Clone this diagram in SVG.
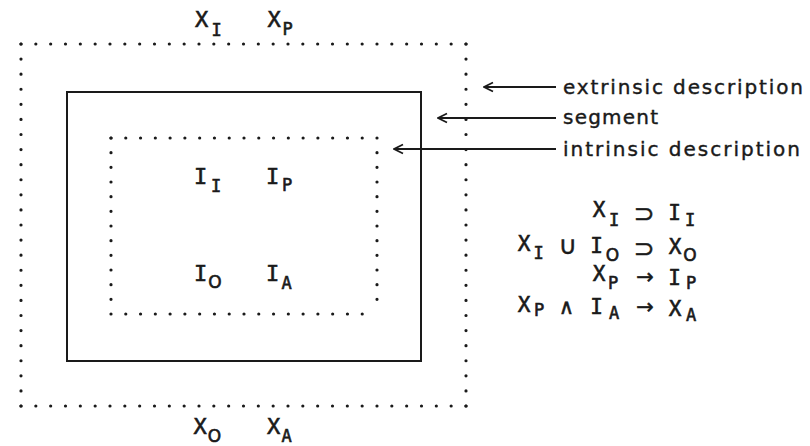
<svg xmlns="http://www.w3.org/2000/svg" width="810" height="446" viewBox="0 0 810 446">
  <style>
    .dot { fill: none; stroke: #1a1a1a; stroke-width: 3.2; stroke-linecap: round; }
    .solid { fill: none; stroke: #1a1a1a; stroke-width: 2; }
    .conn { fill: none; stroke: #1a1a1a; stroke-width: 1.8; }
    .lbl { font-family: "DejaVu Sans", "Liberation Sans", sans-serif; font-size: 20px; fill: #1a1a1a; stroke: #1a1a1a; stroke-width: 0.4; }
    .m { font-family: "DejaVu Sans Mono", "Liberation Mono", monospace; fill: #1a1a1a; stroke: #1a1a1a; stroke-width: 0.6; text-anchor: middle; }
    .big { font-size: 22px; }
    .mid { font-size: 21px; }
    .sub { font-size: 17px; }
    .o { font-family: "DejaVu Sans", "Liberation Sans", sans-serif; }
    .sym { font-family: "DejaVu Sans", "Liberation Sans", sans-serif; font-size: 21px; fill: #1a1a1a; stroke: #1a1a1a; stroke-width: 0.5; text-anchor: middle; }
    .lg { font-size: 25px; }
  </style>
  <defs>
    <marker id="ah" viewBox="-11 -6 12 12" markerWidth="12" markerHeight="12" refX="0" refY="0" orient="auto" markerUnits="userSpaceOnUse">
      <path d="M-9,-4.5 L0,0 L-9,4.5" fill="none" stroke="#1a1a1a" stroke-width="1.8"/>
    </marker>
  </defs>

  <g id="extrinsic">
    <line class="dot" x1="21" y1="44" x2="466" y2="44" stroke-dasharray="0 14.833"/>
    <line class="dot" x1="21" y1="406" x2="466" y2="406" stroke-dasharray="0 14.833"/>
    <line class="dot" x1="21" y1="44" x2="21" y2="406" stroke-dasharray="0 15.083"/>
    <line class="dot" x1="466" y1="44" x2="466" y2="406" stroke-dasharray="0 15.083"/>
  </g>

  <g id="segment">
    <rect class="solid" x="67" y="92" width="354" height="269"/>
  </g>

  <g id="intrinsic">
    <line class="dot" x1="111" y1="138" x2="377" y2="138" stroke-dasharray="0 14.778"/>
    <line class="dot" x1="111" y1="314" x2="377" y2="314" stroke-dasharray="0 14.778"/>
    <line class="dot" x1="111" y1="138" x2="111" y2="314" stroke-dasharray="0 14.667"/>
    <line class="dot" x1="377" y1="138" x2="377" y2="314" stroke-dasharray="0 14.667"/>
  </g>

  <g id="connectors">
    <line class="conn" x1="556" y1="87" x2="484" y2="87" marker-end="url(#ah)"/>
    <line class="conn" x1="556" y1="118" x2="438" y2="118" marker-end="url(#ah)"/>
    <line class="conn" x1="556" y1="149" x2="394" y2="149" marker-end="url(#ah)"/>
  </g>

  <g id="labels">
    <text class="lbl" x="563" y="94" textLength="240" lengthAdjust="spacing">extrinsic description</text>
    <text class="lbl" x="563" y="124" textLength="95" lengthAdjust="spacing">segment</text>
    <text class="lbl" x="563" y="156" textLength="237" lengthAdjust="spacing">intrinsic description</text>
  </g>

  <g id="outer-vars">
    <text class="m big" x="201.5" y="27">X</text>
    <text class="m sub" x="216.5" y="36">I</text>
    <text class="m big" x="274" y="27">X</text>
    <text class="m sub" x="287.5" y="35">P</text>
    <text class="m big" x="200" y="434">X</text>
    <text class="m sub o" x="214.5" y="442">O</text>
    <text class="m big" x="273.5" y="434">X</text>
    <text class="m sub" x="286.5" y="442">A</text>
  </g>

  <g id="inner-vars">
    <text class="m big" x="200.5" y="184">I</text>
    <text class="m sub" x="216" y="192">I</text>
    <text class="m big" x="272.5" y="184">I</text>
    <text class="m sub" x="287" y="191">P</text>
    <text class="m big" x="200.5" y="281">I</text>
    <text class="m sub o" x="215" y="288">O</text>
    <text class="m big" x="272.5" y="281">I</text>
    <text class="m sub" x="286.5" y="289">A</text>
  </g>

  <g id="equations">
    <text class="m mid" x="599" y="217">X</text>
    <text class="m sub" x="614" y="226">I</text>
    <text class="sym lg" x="644" y="222">⊃</text>
    <text class="m mid" x="674.5" y="220">I</text>
    <text class="m sub" x="690" y="226">I</text>

    <text class="m mid" x="524" y="251">X</text>
    <text class="m sub" x="538.5" y="259">I</text>
    <text class="sym lg" x="568" y="254">∪</text>
    <text class="m mid" x="596.5" y="253">I</text>
    <text class="m sub o" x="612.5" y="261">O</text>
    <text class="sym lg" x="644" y="257">⊃</text>
    <text class="m mid" x="675" y="254">X</text>
    <text class="m sub o" x="690" y="261">O</text>

    <text class="m mid" x="599" y="281">X</text>
    <text class="m sub" x="613" y="289">P</text>
    <text class="sym" x="645" y="284">→</text>
    <text class="m mid" x="674.5" y="285">I</text>
    <text class="m sub" x="691" y="289">P</text>

    <text class="m mid" x="524" y="312">X</text>
    <text class="m sub" x="539" y="316">P</text>
    <text class="sym" x="566.5" y="314">∧</text>
    <text class="m mid" x="596.5" y="314">I</text>
    <text class="m sub" x="614" y="319">A</text>
    <text class="sym" x="645" y="314">→</text>
    <text class="m mid" x="675" y="316">X</text>
    <text class="m sub" x="691" y="321">A</text>
  </g>
</svg>
